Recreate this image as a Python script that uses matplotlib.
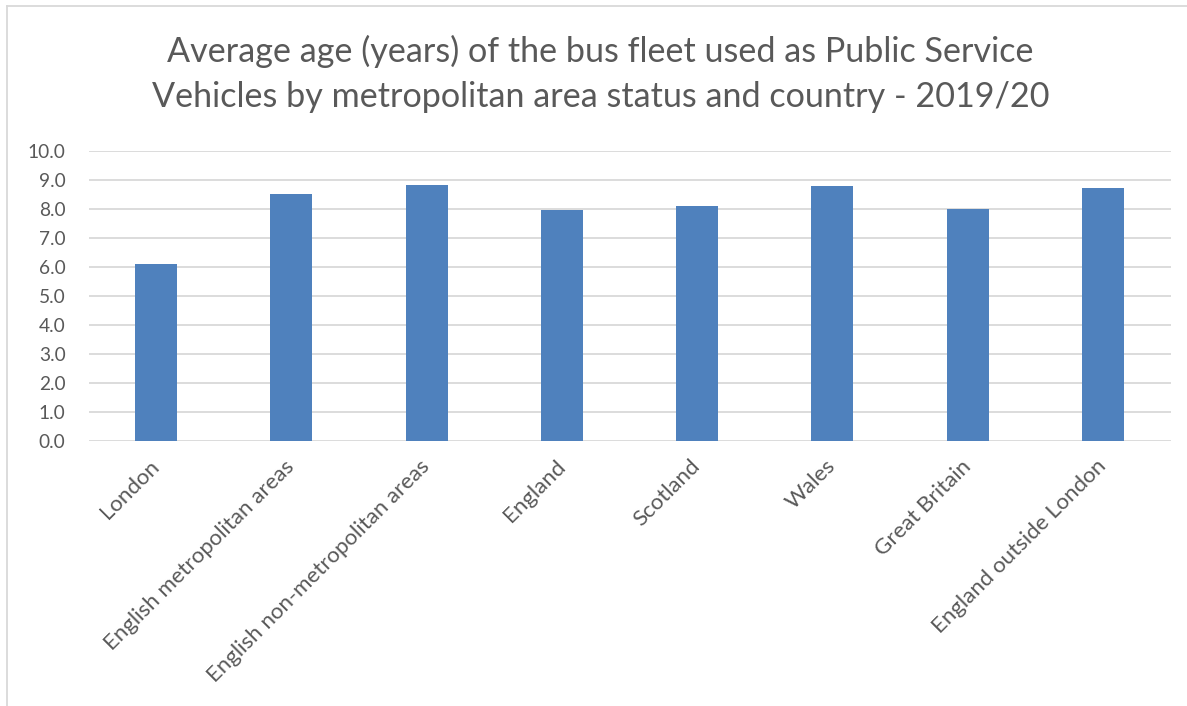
import matplotlib
matplotlib.use("Agg")
import matplotlib.pyplot as plt
from matplotlib.lines import Line2D

categories = ["London", "English metropolitan areas", "English non-metropolitan areas",
              "England", "Scotland", "Wales", "Great Britain", "England outside London"]
values = [6.1, 8.52, 8.83, 7.97, 8.09, 8.80, 8.01, 8.71]
y_ticks = [0, 1, 2, 3, 4, 5, 6, 7, 8, 9, 10]
title = "Average age (years) of the bus fleet used as Public Service\nVehicles by metropolitan area status and country - 2019/20"

plt.rcParams['font.family'] = ['Lato', 'DejaVu Sans']
text_color = "#595959"

fig = plt.figure(figsize=(11.87, 7.06), dpi=100)
W, H = 1187, 706
ax = fig.add_axes([88.5 / W, 1 - 441 / H, (1170.5 - 88.5) / W, (441 - 151) / H])

x = list(range(len(categories)))
ax.bar(x, values, width=0.31, color="#4f81bd", zorder=3)
ax.set_xlim(-0.5, len(categories) - 0.5)
ax.set_ylim(0, 10)
ax.set_yticks(y_ticks)
ax.set_yticklabels([f"{v:.1f}" for v in y_ticks], fontsize=13.8, color=text_color)
ax.tick_params(axis='y', length=0, pad=16.5)
ax.tick_params(axis='x', length=0, pad=16)
ax.set_xticks(x)
ax.set_xticklabels(categories, rotation=45, ha='right', va='center', rotation_mode='anchor',
                   fontsize=16, color=text_color)
for s in ax.spines.values():
    s.set_visible(False)
ax.grid(axis='y', color="#d9d9d9", linewidth=1.3, zorder=0)
ax.set_axisbelow(True)

fig.text(0.506, 1 - 74 / H, title, ha='center', va='center', fontsize=24.6,
         color=text_color, linespacing=1.5)

# chart border (top and left edges visible)
fig.add_artist(Line2D([6.5 / W, 1], [1 - 6 / H, 1 - 6 / H], transform=fig.transFigure,
                      color="#d9d9d9", linewidth=1.3))
fig.add_artist(Line2D([6.5 / W, 6.5 / W], [0, 1 - 6 / H], transform=fig.transFigure,
                      color="#d9d9d9", linewidth=1.3))

fig.savefig("out.png", dpi=100, facecolor="white")
